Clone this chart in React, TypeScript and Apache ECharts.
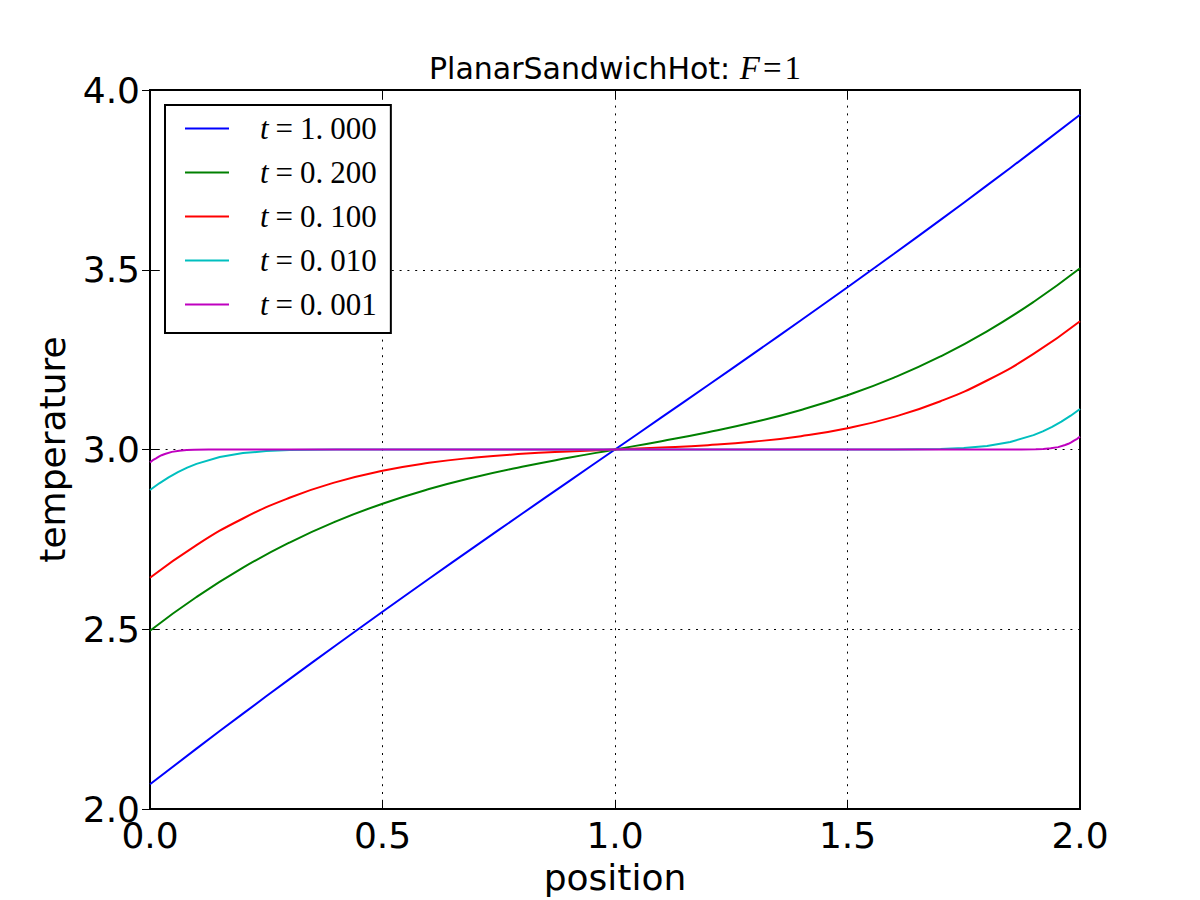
import React, { useEffect, useRef } from "react";
import * as echarts from "echarts";

// Temperature profiles across the slab at several times
const positionsCoarse = [0, 0.1, 0.2, 0.3, 0.4, 0.5, 0.6, 0.7, 0.8, 0.9, 1.0, 1.1, 1.2, 1.3, 1.4, 1.5, 1.6, 1.7, 1.8, 1.9, 2.0];
const temperatureT1000 = [2.0687, 2.1679, 2.2654, 2.3613, 2.4556, 2.5486, 2.6404, 2.7312, 2.8212, 2.9108, 3.0, 3.0892, 3.1788, 3.2688, 3.3596, 3.4514, 3.5444, 3.6387, 3.7346, 3.8321, 3.9313];
const temperatureT0200 = [2.496, 2.5897, 2.6713, 2.7412, 2.8001, 2.8491, 2.8899, 2.9236, 2.952, 2.9769, 3.0, 3.0231, 3.048, 3.0764, 3.1101, 3.1509, 3.1999, 3.2588, 3.3287, 3.4103, 3.504];
const temperatureT0100 = [2.6432, 2.7342, 2.8081, 2.8658, 2.9093, 2.9409, 2.9629, 2.9778, 2.9879, 2.9947, 3.0, 3.0053, 3.0121, 3.0222, 3.0371, 3.0591, 3.0907, 3.1342, 3.1919, 3.2658, 3.3568];

const positionsT0010 = [0, 0.02, 0.04, 0.06, 0.08, 0.1, 0.15, 0.2, 0.25, 0.3, 0.4, 0.5, 1.0, 1.5, 1.6, 1.7, 1.75, 1.8, 1.85, 1.9, 1.92, 1.94, 1.96, 1.98, 2.0];
const temperatureT0010 = [2.8872, 2.906, 2.9227, 2.9372, 2.9496, 2.9601, 2.979, 2.99, 2.9956, 2.9983, 2.9998, 3.0, 3.0, 3.0, 3.0002, 3.0017, 3.0044, 3.01, 3.021, 3.0399, 3.0504, 3.0628, 3.0773, 3.094, 3.1128];

const positionsT0001 = [0, 0.006, 0.013, 0.019, 0.025, 0.032, 0.047, 0.063, 0.079, 0.095, 0.126, 0.2, 1.0, 1.8, 1.874, 1.905, 1.921, 1.937, 1.953, 1.968, 1.975, 1.981, 1.987, 1.994, 2.0];
const temperatureT0001 = [2.9643, 2.9703, 2.9755, 2.9801, 2.9841, 2.9874, 2.9934, 2.9968, 2.9986, 2.9995, 2.9999, 3.0, 3.0, 3.0, 3.0001, 3.0005, 3.0014, 3.0032, 3.0066, 3.0126, 3.0159, 3.0199, 3.0245, 3.0297, 3.0357];

const seriesNames = ["t=1.000", "t=0.200", "t=0.100", "t=0.010", "t=0.001"];
const seriesColors = ["#0000ff", "#008000", "#ff0000", "#00bfbf", "#bf00bf"];

const xTicks = [0, 0.5, 1.0, 1.5, 2.0];
const yTicks = [2.0, 2.5, 3.0, 3.5, 4.0];

const zip = (xs: number[], ys: number[]) => xs.map((x, i) => [x, ys[i]]);

// evenly sampled profiles get a spline; the boundary-layer ones are sampled densely
const profiles = [
  { data: zip(positionsCoarse, temperatureT1000), smooth: true },
  { data: zip(positionsCoarse, temperatureT0200), smooth: true },
  { data: zip(positionsCoarse, temperatureT0100), smooth: true },
  { data: zip(positionsT0010, temperatureT0010), smooth: false },
  { data: zip(positionsT0001, temperatureT0001), smooth: false },
];

const SANS = "DejaVu Sans";
const MATH = "Liberation Serif";

export default function App() {
  const ref = useRef<HTMLDivElement>(null);

  useEffect(() => {
    if (!ref.current) return;
    const chart = echarts.init(ref.current, null, { renderer: "svg" });

    const gridLine = { show: true, lineStyle: { color: "#000", width: 1, type: [2, 5.8] as any } };
    const tickIn = { show: true, inside: true, length: 8, lineStyle: { color: "#000", width: 1 } };

    const baseX = { type: "value" as const, min: xTicks[0], max: xTicks[xTicks.length - 1], interval: 0.5 };
    const baseY = { type: "value" as const, min: yTicks[0], max: yTicks[yTicks.length - 1], interval: 0.5 };

    chart.setOption({
      animation: false,
      backgroundColor: "#fff",
      grid: {
        left: 150,
        top: 90,
        width: 930,
        height: 720,
        show: true,
        borderColor: "#000",
        borderWidth: 2,
        backgroundColor: "transparent",
      },
      graphic: [
        {
          type: "text",
          x: 615,
          y: 68,
          style: {
            text: "{a|PlanarSandwichHot: }{m|F}{e|=}{n|1}",
            align: "center",
            verticalAlign: "middle",
            rich: {
              a: { fontFamily: SANS, fontSize: 30, color: "#000" },
              m: { fontFamily: MATH, fontStyle: "italic", fontSize: 33, color: "#000" },
              e: { fontFamily: MATH, fontSize: 33, color: "#000", padding: [0, 3, 0, 3] },
              n: { fontFamily: MATH, fontSize: 33, color: "#000" },
            },
          },
        },
      ],
      legend: {
        orient: "vertical",
        left: 165,
        top: 105,
        data: seriesNames,
        icon: "rect",
        itemWidth: 44,
        itemHeight: 2,
        itemGap: 13,
        padding: [8, 14, 13, 20],
        borderColor: "#000",
        borderWidth: 2,
        borderRadius: 0,
        backgroundColor: "#fff",
        formatter: (name: string) => {
          const value = name.split("=")[1];
          const [whole, frac] = value.split(".");
          return `{t|t}{e|=}{n|${whole}.}{f|${frac}}`;
        },
        textStyle: {
          color: "#000",
          rich: {
            t: { fontFamily: MATH, fontStyle: "italic", fontSize: 31, lineHeight: 30, padding: [0, 0, 0, 26], color: "#000" },
            e: { fontFamily: MATH, fontSize: 31, lineHeight: 30, padding: [0, 7, 0, 7], color: "#000" },
            n: { fontFamily: MATH, fontSize: 31, lineHeight: 30, color: "#000" },
            f: { fontFamily: MATH, fontSize: 31, lineHeight: 30, padding: [0, 0, 0, 7], color: "#000" },
          },
        },
      },
      xAxis: [
        {
          ...baseX,
          position: "bottom",
          name: "position",
          nameLocation: "middle",
          nameGap: 50,
          nameTextStyle: { fontFamily: SANS, fontSize: 36, color: "#000" },
          axisLine: { show: false },
          axisTick: tickIn,
          axisLabel: {
            fontFamily: SANS,
            fontSize: 36,
            color: "#000",
            margin: 8,
            formatter: (v: number) => v.toFixed(1),
          },
          splitLine: gridLine,
        },
        {
          ...baseX,
          position: "top",
          axisLine: { show: false },
          axisTick: tickIn,
          axisLabel: { show: false },
          splitLine: { show: false },
        },
      ],
      yAxis: [
        {
          ...baseY,
          position: "left",
          name: "temperature",
          nameLocation: "middle",
          nameGap: 80,
          nameTextStyle: { fontFamily: SANS, fontSize: 36, color: "#000" },
          axisLine: { show: false },
          axisTick: tickIn,
          axisLabel: {
            fontFamily: SANS,
            fontSize: 36,
            color: "#000",
            margin: 10,
            formatter: (v: number) => v.toFixed(1),
          },
          splitLine: gridLine,
        },
        {
          ...baseY,
          position: "right",
          axisLine: { show: false },
          axisTick: tickIn,
          axisLabel: { show: false },
          splitLine: { show: false },
        },
      ],
      series: profiles.map((p, i) => ({
        name: seriesNames[i],
        type: "line",
        data: p.data,
        xAxisIndex: 0,
        yAxisIndex: 0,
        showSymbol: false,
        symbol: "none",
        smooth: p.smooth,
        lineStyle: { color: seriesColors[i], width: 2 },
        itemStyle: { color: seriesColors[i] },
        emphasis: { disabled: true },
      })),
    });

    return () => chart.dispose();
  }, []);

  return (
    <div
      ref={ref}
      style={{ position: "fixed", left: 0, top: 0, width: 1200, height: 900 }}
    />
  );
}
